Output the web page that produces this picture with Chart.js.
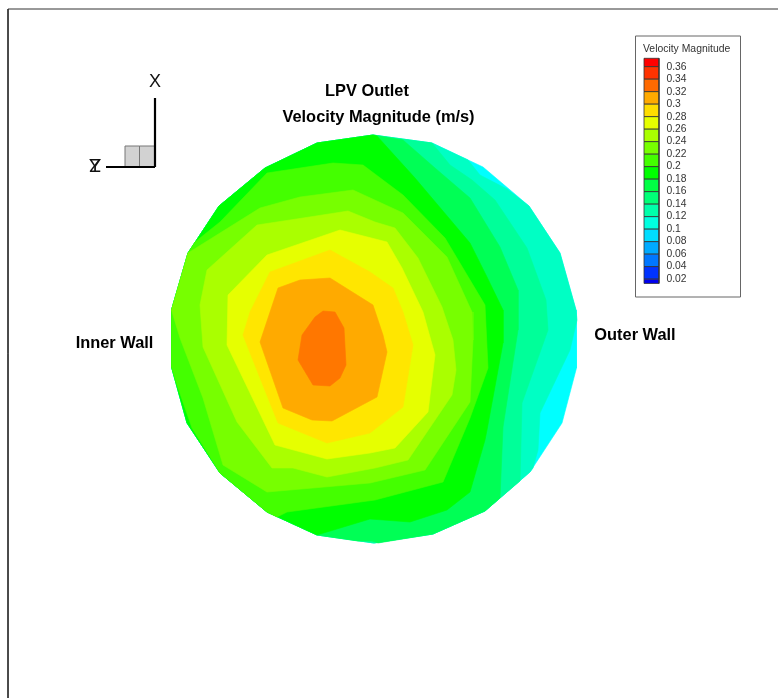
<!DOCTYPE html>
<html><head><meta charset="utf-8">
<style>html,body{margin:0;padding:0;background:#fff}canvas{display:block}</style>
<script src="https://cdn.jsdelivr.net/npm/chart.js@4"></script>
</head><body><canvas id="c" width="778" height="698"></canvas>
<script>
// Contour bands of velocity magnitude: outline of the section and region above each level
const outline=[[373,135],[432,143],[483,167],[529,206],[560,253],[576,310],[576.5,368],[562,423],[530,472],[485,511],[433,534],[374,543],[317,535],[267,512],[220,473],[187,423],[171.5,367],[171.5,310],[188,253],[219,206],[265,168],[317,143]];
const band012=[[373,135],[432,143],[468,160],[480,175],[507,189],[529,206],[560,253],[576,310],[577,320],[570,350],[540,413],[538,450],[533,468],[530,472],[485,511],[433,534],[374,543],[317,535],[267,512],[220,473],[187,423],[171.5,367],[171.5,310],[188,253],[219,206],[265,168],[317,143]];
const band014=[[373,135],[432,143],[450,165],[472,180],[495,200],[527,248],[546,300],[548,330],[522,403],[520,481],[485,511],[433,534],[374,543],[317,535],[267,512],[220,473],[187,423],[171.5,367],[171.5,310],[188,253],[219,206],[265,168],[317,143]];
const band016=[[373,135],[403,140],[435,168],[470,198],[500,247],[518,290],[518,330],[503,427],[500,498],[485,511],[433,534],[378,543],[372,541],[358,541],[317,535],[267,512],[220,473],[187,423],[171.5,367],[171.5,310],[188,253],[219,206],[265,168],[317,143]];
const band018=[[373,135],[377,136],[415,178],[470,243],[487,277],[503,310],[503,343],[487,430],[485,440],[470,492],[447,510],[410,522],[370,519],[317,535],[267,512],[220,473],[187,423],[171.5,367],[171.5,310],[188,253],[219,206],[265,168],[317,143]];
const band020=[[195,242],[220,222],[267,173],[333,163],[363,165],[403,195],[445,238],[485,305],[488,368],[470,418],[443,482],[375,500],[287,512],[277,517],[267,512],[220,473],[192,428],[177,385],[171.5,367],[171.5,310],[188,253]];
const band022=[[188,253],[260,208],[300,197],[353,190],[403,213],[432,242],[447,257],[472,312],[473,340],[470,402],[425,470],[370,483],[267,492],[223,465],[203,398],[180,338],[171.5,310]];
const band024=[[200,305],[207,270],[257,225],[303,218],[348,211],[375,222],[395,228],[418,258],[442,307],[453,340],[456,370],[452,395],[408,460],[375,468],[327,477],[293,468],[272,468],[237,422],[203,347]];
const band026=[[228,295],[267,255],[340,230],[387,242],[402,268],[423,312],[435,355],[428,412],[395,448],[370,453],[327,459],[275,445],[227,345]];
const band028=[[243,335],[250,312],[270,272],[330,250],[370,272],[393,288],[403,312],[413,345],[403,407],[370,433],[327,443],[278,423],[260,378]];
const band030=[[260,342],[278,288],[300,280],[330,278],[373,305],[383,335],[387,352],[377,397],[332,421],[312,420],[283,408]];
const band032=[[323,311],[335,312],[344,328],[346,365],[340,378],[330,386],[313,385],[298,360],[302,335],[315,317]];
const bandSeries=[outline,band012,band014,band016,band018,band020,band022,band024,band026,band028,band030,band032];
const bandColors=['#00ffff','#00ffc4','#00ff99','#00ff55','#00ff00','#44ff00','#77ff00','#aaff00','#e6ff00','#ffe600','#ffaa00','#ff7700'];

// Colour legend
const legendTitle='Velocity Magnitude';
const legendLabels=['0.36','0.34','0.32','0.3','0.28','0.26','0.24','0.22','0.2','0.18','0.16','0.14','0.12','0.1','0.08','0.06','0.04','0.02'];
const legendValues=[0.36,0.34,0.32,0.30,0.28,0.26,0.24,0.22,0.20,0.18,0.16,0.14,0.12,0.10,0.08,0.06,0.04,0.02];
const legendTop=0.3734, legendBottom=0.0131;
const legendColors=['#ff0000','#ff3300','#ff6a00','#ffaa00','#ffdd00','#e6ff00','#aaff00','#77ff00','#44ff00','#00ff00','#00ff44','#00ff77','#00ffaa','#00ffe0','#00ddff','#00aaff','#0077ff','#0033ff','#0000ee'];

// Annotation geometry and text
const frameLine=[[778,9],[8,9],[8,698]];
const legendBox=[[635.5,36],[740.5,36],[740.5,297],[635.5,297],[635.5,36]];
const axisX=[[155,98],[155,167]];
const axisZ=[[106,167],[155,167]];
const triadBoxA=[[125,146],[139.5,146],[139.5,167],[125,167],[125,146]];
const triadBoxB=[[139.5,146],[155,146],[155,167],[139.5,167],[139.5,146]];
const annotations=[
 {t:'LPV Outlet',x:367,y:91.5,f:'bold 16.4px "Liberation Sans"',c:'#000'},
 {t:'Velocity Magnitude (m/s)',x:378.5,y:117,f:'bold 16.4px "Liberation Sans"',c:'#000'},
 {t:'Inner Wall',x:114.5,y:343,f:'bold 16.4px "Liberation Sans"',c:'#000'},
 {t:'Outer Wall',x:635,y:335,f:'bold 16.4px "Liberation Sans"',c:'#000'},
 {t:'X',x:155,y:82,f:'18px "Liberation Sans"',c:'#111'},
 {t:'Z',x:95,y:167,f:'19px "Liberation Sans"',c:'#111'},
 {t:'Y',x:95,y:167,f:'19px "Liberation Sans"',c:'#111'}
];

const pts=a=>a.map(p=>({x:p[0],y:p[1]}));
const closed=a=>pts(a.concat([a[0]]));
const ds=[];
let paint=0;
const add=o=>{paint++;ds.push(Object.assign({type:'scatter',showLine:true,pointRadius:0,pointHoverRadius:0,tension:0,order:-paint,borderWidth:0,xAxisID:'x',yAxisID:'y'},o));};
add({data:pts(frameLine),borderColor:'#333',borderWidth:1,fill:false});
bandSeries.forEach((b,i)=>add({data:closed(b),backgroundColor:bandColors[i],borderColor:bandColors[i],borderWidth:0.6,fill:'shape'}));
add({data:pts(legendBox),backgroundColor:'#fff',borderColor:'#666',borderWidth:1,fill:'shape'});
const swatchL=644, swatchR=659;
legendColors.forEach((c,i)=>{
  const hi=i===0?legendTop:legendValues[i-1];
  const lo=i===legendValues.length?legendBottom:legendValues[i];
  add({data:[{x:swatchL,y:hi},{x:swatchR,y:hi},{x:swatchR,y:lo},{x:swatchL,y:lo},{x:swatchL,y:hi}],yAxisID:'legendY',backgroundColor:c,borderColor:'#333',borderWidth:0.8,fill:'shape'});
});
add({data:pts(triadBoxA),backgroundColor:'#d2d2d2',borderColor:'#777',borderWidth:1,fill:'shape'});
add({data:pts(triadBoxB),backgroundColor:'#d2d2d2',borderColor:'#777',borderWidth:1,fill:'shape'});
add({data:pts(axisX),borderColor:'#000',borderWidth:2.2,fill:false});
add({data:pts(axisZ),borderColor:'#000',borderWidth:2.2,fill:false});

const textPlugin={id:'texts',afterDatasetsDraw(chart){
  const {ctx,scales}=chart;
  ctx.save();ctx.textBaseline='middle';
  annotations.forEach(a=>{ctx.font=a.f;ctx.fillStyle=a.c;ctx.textAlign='center';ctx.fillText(a.t,scales.x.getPixelForValue(a.x),scales.y.getPixelForValue(a.y));});
  ctx.font='10.4px "Liberation Sans"';ctx.fillStyle='#333';ctx.textAlign='left';
  ctx.fillText(legendTitle,scales.x.getPixelForValue(643),scales.y.getPixelForValue(49));
  ctx.font='10.3px "Liberation Sans"';
  legendLabels.forEach((l,i)=>ctx.fillText(l,scales.x.getPixelForValue(666.5),scales.legendY.getPixelForValue(legendValues[i])));
  ctx.restore();
}};

new Chart(document.getElementById('c'),{
  type:'scatter',
  data:{datasets:ds},
  options:{
    responsive:false,animation:false,devicePixelRatio:1,
    layout:{padding:0},
    plugins:{legend:{display:false},title:{display:false},tooltip:{enabled:false}},
    events:[],
    scales:{
      x:{type:'linear',display:false,min:0,max:778},
      y:{type:'linear',display:false,min:0,max:698,reverse:true},
      legendY:{type:'linear',display:false,min:-0.6503,max:0.4667}
    }
  },
  plugins:[textPlugin]
});
</script></body></html>
